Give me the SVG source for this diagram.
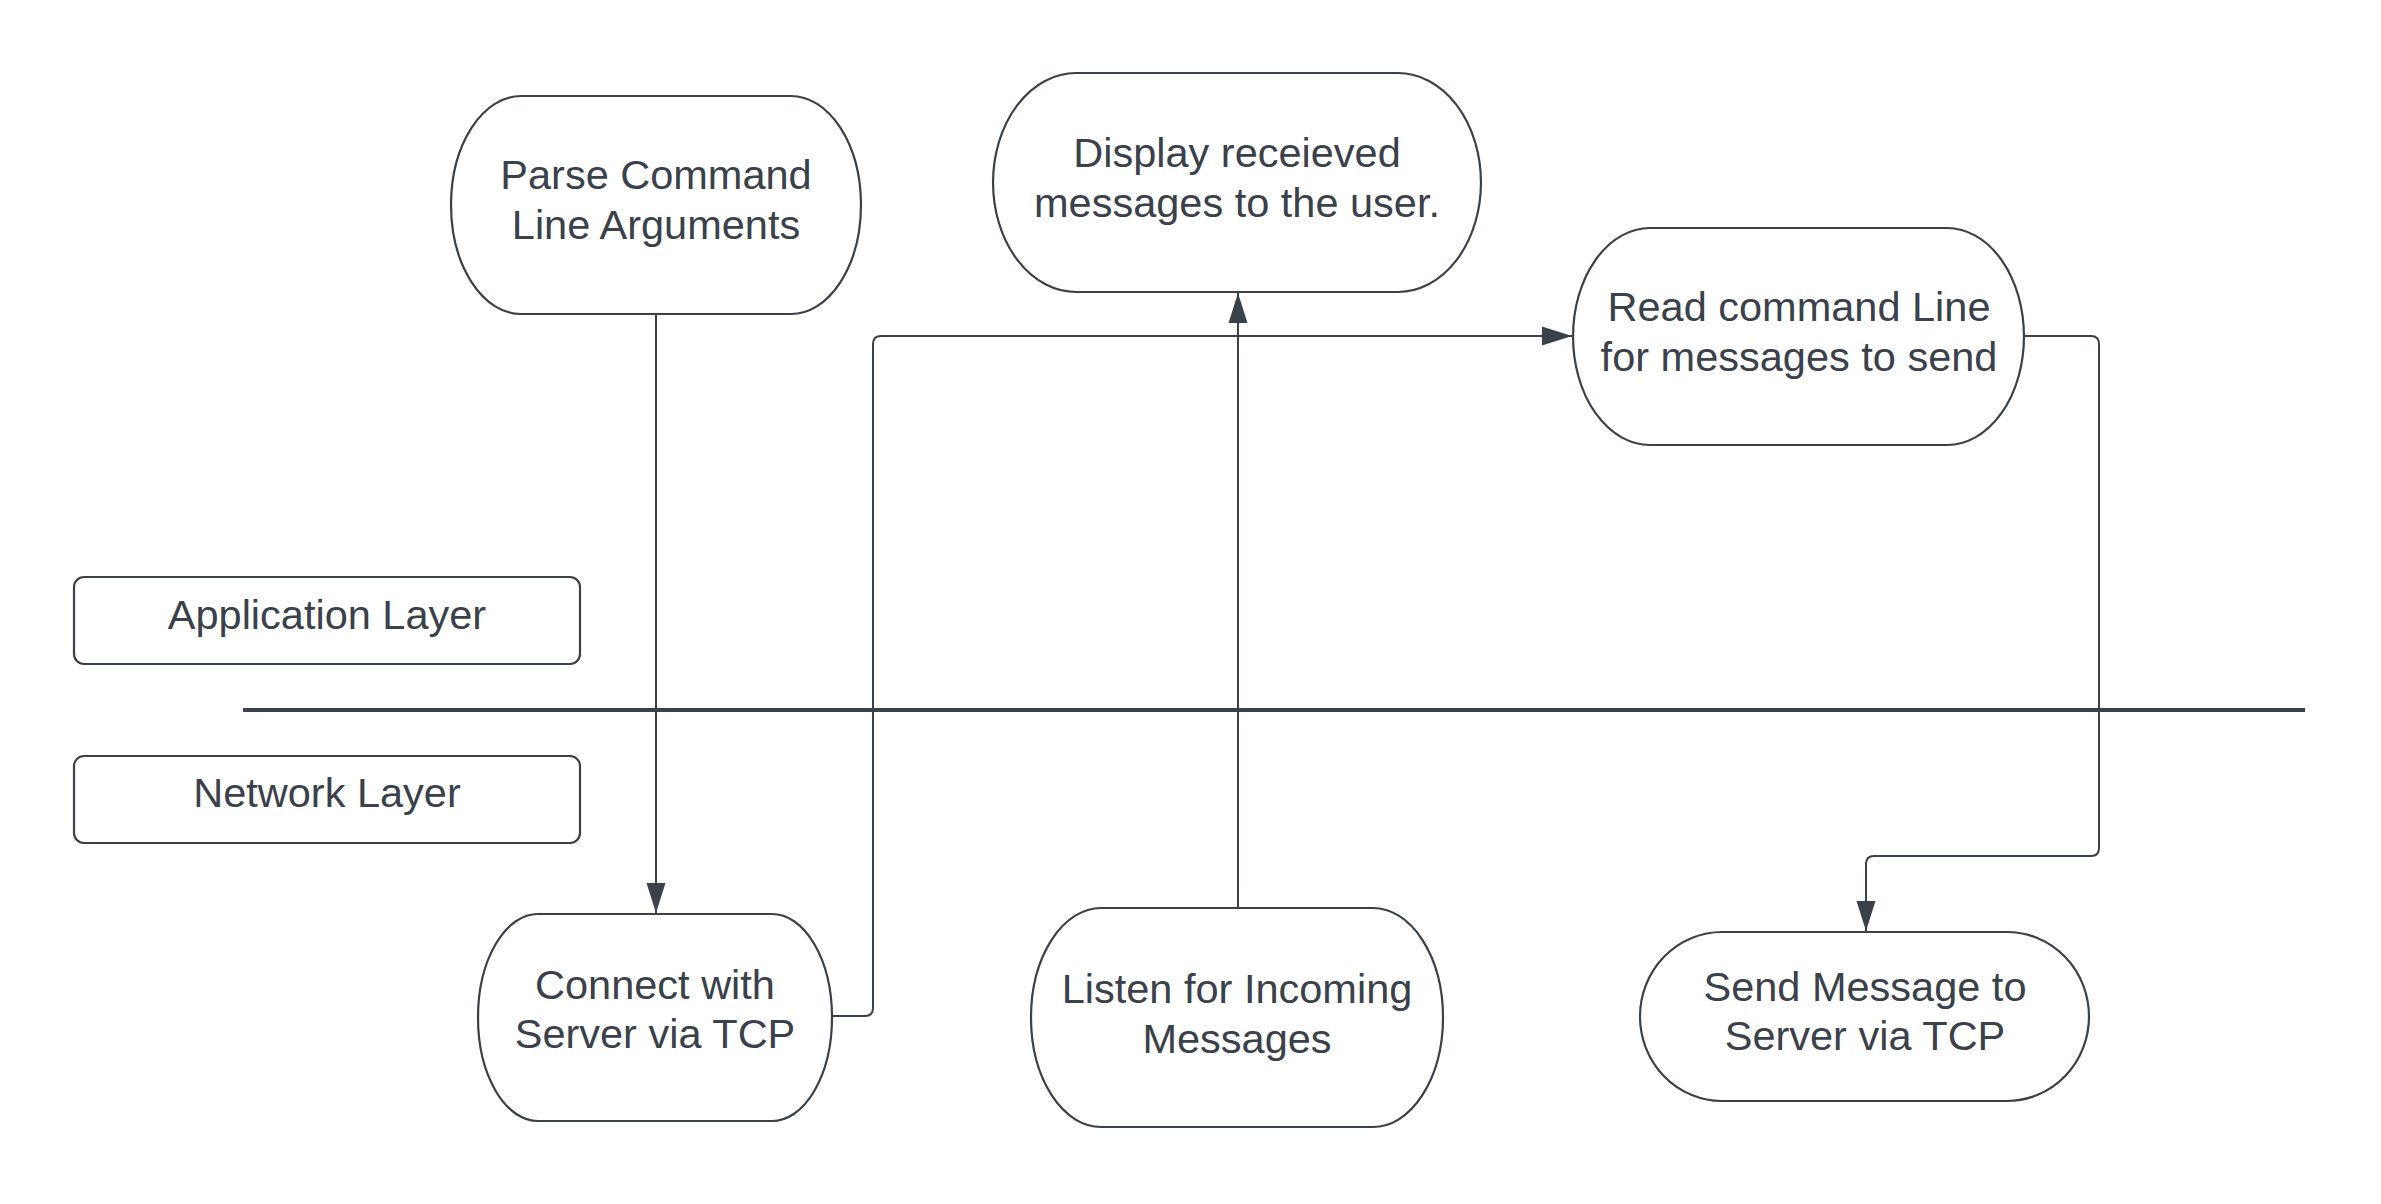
<svg xmlns="http://www.w3.org/2000/svg" width="2381" height="1204" viewBox="0 0 2381 1204">
<defs>
<style>
.n{fill:#ffffff;stroke:#3a414a;stroke-width:2.2}
.t{font-family:"Liberation Sans",Arial,sans-serif;font-size:41.5px;fill:#3a414a;text-anchor:middle}
.c{fill:none;stroke:#3a414a;stroke-width:2}
.sep{stroke:#3a414a;stroke-width:4}
</style>
<marker id="ah" markerWidth="30" markerHeight="20" refX="30" refY="10" orient="auto" markerUnits="userSpaceOnUse">
<path d="M0,0.5 L30,10 L0,19.5 Z" fill="#3a414a"/>
</marker>
</defs>
<rect width="2381" height="1204" fill="#ffffff"/>
<g id="connectors">
<path class="c" d="M656,314 L656,913" marker-end="url(#ah)"/>
<path class="c" d="M832,1016 L865,1016 Q873,1016 873,1008 L873,344 Q873,336 881,336 L1572,336" marker-end="url(#ah)"/>
<path class="c" d="M1238,908 L1238,293" marker-end="url(#ah)"/>
<path class="c" d="M2024,336 L2091,336 Q2099,336 2099,344 L2099,848 Q2099,856 2091,856 L1874,856 Q1866,856 1866,864 L1866,931" marker-end="url(#ah)"/>
</g>
<line id="separator" class="sep" x1="243" y1="710" x2="2305" y2="710"/>
<g id="app-layer">
<rect class="n" x="74" y="577" width="506" height="87" rx="10"/>
<text class="t" x="327" y="629">Application Layer</text>
</g>
<g id="net-layer">
<rect class="n" x="74" y="756" width="506" height="87" rx="10"/>
<text class="t" x="327" y="807">Network Layer</text>
</g>
<g id="parse">
<path class="n" d="M521,96 L791,96 A70,109 0 0 1 791,314 L521,314 A70,109 0 0 1 521,96 Z"/>
<text class="t" x="656" y="189">Parse Command</text>
<text class="t" x="656" y="239">Line Arguments</text>
</g>
<g id="display">
<path class="n" d="M1076,73 L1398,73 A83,109.5 0 0 1 1398,292 L1076,292 A83,109.5 0 0 1 1076,73 Z"/>
<text class="t" x="1237" y="167">Display receieved</text>
<text class="t" x="1237" y="217">messages to the user.</text>
</g>
<g id="read">
<path class="n" d="M1650,228 L1947,228 A77,108.5 0 0 1 1947,445 L1650,445 A77,108.5 0 0 1 1650,228 Z"/>
<text class="t" x="1799" y="321">Read command Line</text>
<text class="t" x="1799" y="371">for messages to send</text>
</g>
<g id="connect">
<path class="n" d="M538,914 L772,914 A60,103.5 0 0 1 772,1121 L538,1121 A60,103.5 0 0 1 538,914 Z"/>
<text class="t" x="655" y="999">Connect with</text>
<text class="t" x="655" y="1048">Server via TCP</text>
</g>
<g id="listen">
<path class="n" d="M1101,908 L1373,908 A70,109.5 0 0 1 1373,1127 L1101,1127 A70,109.5 0 0 1 1101,908 Z"/>
<text class="t" x="1237" y="1003">Listen for Incoming</text>
<text class="t" x="1237" y="1053">Messages</text>
</g>
<g id="send">
<path class="n" d="M1722,932 L2007,932 A82,84.5 0 0 1 2007,1101 L1722,1101 A82,84.5 0 0 1 1722,932 Z"/>
<text class="t" x="1865" y="1001">Send Message to</text>
<text class="t" x="1865" y="1050">Server via TCP</text>
</g>
</svg>
